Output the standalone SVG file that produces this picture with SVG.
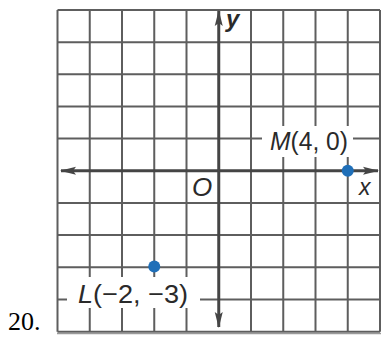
<svg xmlns="http://www.w3.org/2000/svg" width="383" height="337" viewBox="0 0 383 337">
  <style>
    .grid { stroke: #5e5e5e; stroke-width: 2; fill: none; }
    .axis { stroke: #454545; stroke-width: 3; fill: none; }
    .lbl { font-family: "Liberation Sans", Arial, sans-serif; fill: #2a2a2a; }
    .it { font-style: italic; }
    .dot { fill: #1f6fb8; }
    .bg { fill: #ffffff; }
  </style>
  <defs>
    <marker id="arr" viewBox="0 0 16 10" refX="15" refY="5" markerWidth="16" markerHeight="10" markerUnits="userSpaceOnUse" orient="auto">
      <path d="M0,1 L16,5 L0,9 L3,5 Z" fill="#454545"/>
    </marker>
  </defs>
  <rect width="383" height="337" fill="#ffffff"/>
  <g id="grid">
    <path class="grid" d="M57.5,10V331.7 M89.75,10V331.7 M122,10V331.7 M154.25,10V331.7 M186.5,10V331.7 M251,10V331.7 M283.25,10V331.7 M315.5,10V331.7 M347.75,10V331.7 M380,10V331.7"/>
    <path class="grid" d="M57.5,10H380 M57.5,42.2H380 M57.5,74.3H380 M57.5,106.5H380 M57.5,138.6H380 M57.5,202.9H380 M57.5,235.1H380 M57.5,267.2H380 M57.5,299.4H380 M57.5,331.7H380"/>
    <line x1="57" y1="333.5" x2="381" y2="333.5" stroke="#9a9a9a" stroke-width="1.5"/>
  </g>
  <g id="connectors">
    <line class="axis" x1="218.75" y1="170.8" x2="61" y2="170.8" marker-end="url(#arr)"/>
    <line class="axis" x1="218.75" y1="170.8" x2="378" y2="170.8" marker-end="url(#arr)"/>
    <line class="axis" x1="218.75" y1="170.8" x2="218.75" y2="11" marker-end="url(#arr)"/>
    <line class="axis" x1="218.75" y1="170.8" x2="218.75" y2="327" marker-end="url(#arr)"/>
  </g>
  <g id="axis-labels">
    <text class="lbl it" x="226" y="27" font-size="24" font-weight="bold">y</text>
    <text class="lbl it" x="359" y="195" font-size="23">x</text>
    <text class="lbl it" x="192" y="196" font-size="26">O</text>
  </g>
  <g id="point-M">
    <rect class="bg" x="262" y="126" width="91" height="31"/>
    <circle class="dot" cx="347.75" cy="170.8" r="6"/>
    <text class="lbl" x="270" y="150" font-size="26" textLength="78" lengthAdjust="spacingAndGlyphs"><tspan class="it">M</tspan>(4, 0)</text>
  </g>
  <g id="point-L">
    <rect class="bg" x="67" y="277" width="133" height="31"/>
    <circle class="dot" cx="154.25" cy="266.5" r="6"/>
    <text class="lbl" x="78" y="303" font-size="26" textLength="110" lengthAdjust="spacingAndGlyphs"><tspan class="it">L</tspan>(−2, −3)</text>
  </g>
  <g id="number">
    <text x="8" y="330" font-family="'Liberation Serif', 'Times New Roman', serif" font-size="26" fill="#000">20.</text>
  </g>
</svg>
